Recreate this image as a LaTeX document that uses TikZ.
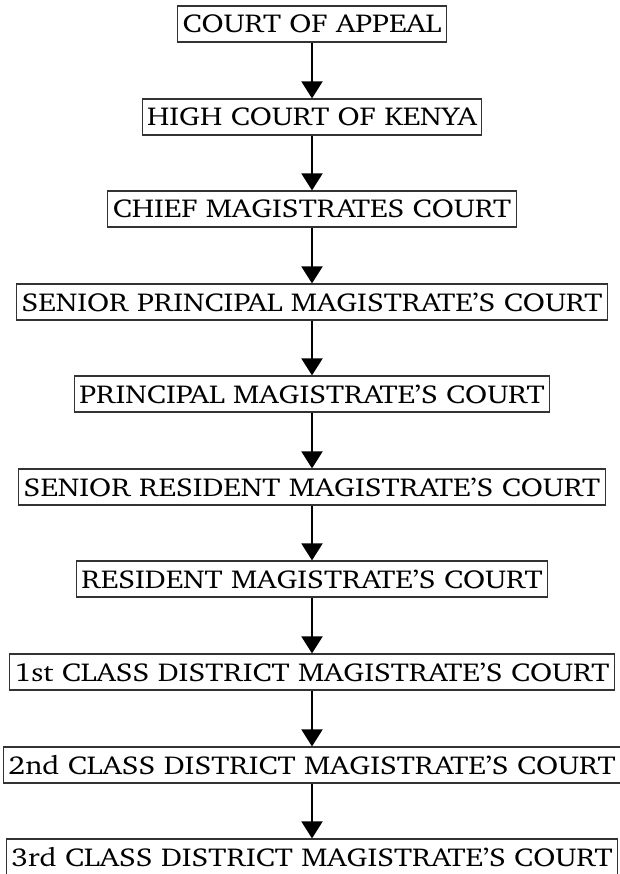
\documentclass[tikz,border=0pt]{standalone}
\usepackage[T1]{fontenc}
\usepackage{charter}
\usetikzlibrary{arrows.meta}

\begin{document}
\begin{tikzpicture}[x=1bp, y=-1bp,
    court/.style={draw=black!80, line width=1.2bp, minimum height=36bp,
                  inner xsep=5bp, inner ysep=0pt,
                  font=\fontsize{26}{30}\selectfont},
    appeal/.style={-{Triangle[width=21bp, length=17bp]}, line width=2bp}]
    \useasboundingbox (0,0) rectangle (620,874);

    % --- Tribunais, do topo para a base ---
    \foreach \n/\lbl/\yy in {
        1/COURT OF APPEAL/24,
        2/HIGH COURT OF KENYA/117,
        3/CHIEF MAGISTRATES COURT/209,
        4/SENIOR PRINCIPAL MAGISTRATE'S COURT/302,
        5/PRINCIPAL MAGISTRATE'S COURT/394,
        6/SENIOR RESIDENT MAGISTRATE'S COURT/487,
        7/RESIDENT MAGISTRATE'S COURT/579,
        8/1st CLASS DISTRICT MAGISTRATE'S COURT/672,
        9/2nd CLASS DISTRICT MAGISTRATE'S COURT/765,
        10/3rd CLASS DISTRICT MAGISTRATE'S COURT/857} {
      \node[court] (c\n) at (312,\yy) {\scalebox{1.165}[1]{\lbl}};
    }

    % --- Setas entre niveis ---
    \foreach \a/\b in {1/2, 2/3, 3/4, 4/5, 5/6, 6/7, 7/8, 8/9, 9/10} {
      \draw[appeal] (c\a) -- (c\b);
    }
\end{tikzpicture}
\end{document}
